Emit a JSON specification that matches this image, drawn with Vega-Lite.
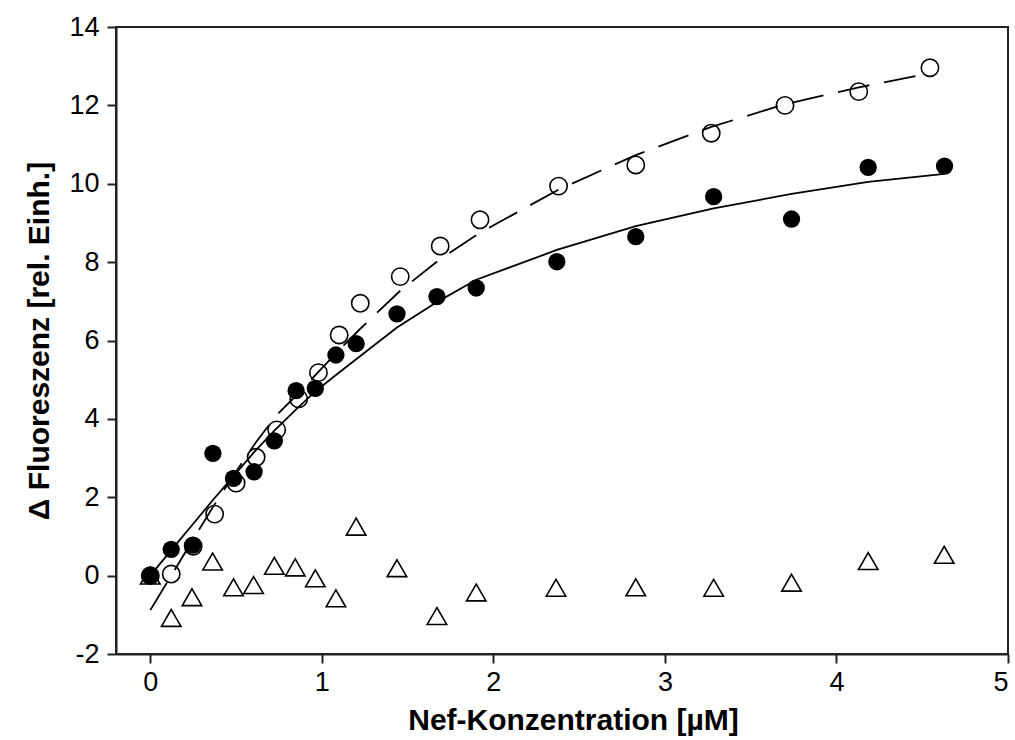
{
  "$schema": "https://vega.github.io/schema/vega-lite/v6.json",
  "width": 892,
  "height": 627,
  "autosize": {"type": "none"},
  "padding": {"left": 116, "top": 27, "right": 7, "bottom": 86},
  "background": "white",
  "config": {
    "view": {"stroke": "#222", "strokeWidth": 2},
    "font": "Liberation Sans",
    "axis": {
      "grid": false,
      "domainColor": "#222",
      "domainWidth": 2,
      "tickColor": "#222",
      "tickWidth": 2,
      "tickSize": 9,
      "labelColor": "black",
      "labelFont": "Liberation Sans",
      "labelFontSize": 27,
      "titleFont": "Liberation Sans",
      "titleFontSize": 30,
      "titleFontWeight": "bold",
      "titleColor": "black"
    }
  },
  "datasets": {
    "measured": [
      {"conc": 0, "signal": 0.0, "series": "triangle"},
      {"conc": 0.122, "signal": -1.08, "series": "triangle"},
      {"conc": 0.243, "signal": -0.55, "series": "triangle"},
      {"conc": 0.363, "signal": 0.36, "series": "triangle"},
      {"conc": 0.485, "signal": -0.3, "series": "triangle"},
      {"conc": 0.602, "signal": -0.24, "series": "triangle"},
      {"conc": 0.723, "signal": 0.25, "series": "triangle"},
      {"conc": 0.845, "signal": 0.21, "series": "triangle"},
      {"conc": 0.962, "signal": -0.07, "series": "triangle"},
      {"conc": 1.082, "signal": -0.58, "series": "triangle"},
      {"conc": 1.2, "signal": 1.25, "series": "triangle"},
      {"conc": 1.438, "signal": 0.19, "series": "triangle"},
      {"conc": 1.671, "signal": -1.03, "series": "triangle"},
      {"conc": 1.9, "signal": -0.43, "series": "triangle"},
      {"conc": 2.365, "signal": -0.31, "series": "triangle"},
      {"conc": 2.83, "signal": -0.3, "series": "triangle"},
      {"conc": 3.284, "signal": -0.31, "series": "triangle"},
      {"conc": 3.738, "signal": -0.18, "series": "triangle"},
      {"conc": 4.185, "signal": 0.37, "series": "triangle"},
      {"conc": 4.628, "signal": 0.53, "series": "triangle"},

      {"conc": 0, "signal": 0.0, "series": "open"},
      {"conc": 0.122, "signal": 0.04, "series": "open"},
      {"conc": 0.25, "signal": 0.75, "series": "open"},
      {"conc": 0.375, "signal": 1.57, "series": "open"},
      {"conc": 0.5, "signal": 2.36, "series": "open"},
      {"conc": 0.617, "signal": 3.02, "series": "open"},
      {"conc": 0.737, "signal": 3.72, "series": "open"},
      {"conc": 0.865, "signal": 4.51, "series": "open"},
      {"conc": 0.98, "signal": 5.18, "series": "open"},
      {"conc": 1.101, "signal": 6.14, "series": "open"},
      {"conc": 1.224, "signal": 6.95, "series": "open"},
      {"conc": 1.457, "signal": 7.63, "series": "open"},
      {"conc": 1.69, "signal": 8.41, "series": "open"},
      {"conc": 1.922, "signal": 9.08, "series": "open"},
      {"conc": 2.38, "signal": 9.94, "series": "open"},
      {"conc": 2.83, "signal": 10.48, "series": "open"},
      {"conc": 3.27, "signal": 11.29, "series": "open"},
      {"conc": 3.7, "signal": 12.0, "series": "open"},
      {"conc": 4.13, "signal": 12.35, "series": "open"},
      {"conc": 4.545, "signal": 12.96, "series": "open"},

      {"conc": 0, "signal": 0.0, "series": "filled"},
      {"conc": 0.122, "signal": 0.67, "series": "filled"},
      {"conc": 0.248, "signal": 0.78, "series": "filled"},
      {"conc": 0.365, "signal": 3.12, "series": "filled"},
      {"conc": 0.485, "signal": 2.48, "series": "filled"},
      {"conc": 0.605, "signal": 2.65, "series": "filled"},
      {"conc": 0.723, "signal": 3.44, "series": "filled"},
      {"conc": 0.85, "signal": 4.72, "series": "filled"},
      {"conc": 0.962, "signal": 4.78, "series": "filled"},
      {"conc": 1.082, "signal": 5.63, "series": "filled"},
      {"conc": 1.2, "signal": 5.92, "series": "filled"},
      {"conc": 1.438, "signal": 6.68, "series": "filled"},
      {"conc": 1.671, "signal": 7.12, "series": "filled"},
      {"conc": 1.9, "signal": 7.34, "series": "filled"},
      {"conc": 2.37, "signal": 8.01, "series": "filled"},
      {"conc": 2.83, "signal": 8.65, "series": "filled"},
      {"conc": 3.284, "signal": 9.67, "series": "filled"},
      {"conc": 3.738, "signal": 9.1, "series": "filled"},
      {"conc": 4.185, "signal": 10.42, "series": "filled"},
      {"conc": 4.63, "signal": 10.45, "series": "filled"}
    ],
    "fits": [
      {"conc": 0, "fit": 0.0, "curve": "solid"},
      {"conc": 0.122, "fit": 0.65, "curve": "solid"},
      {"conc": 0.248, "fit": 1.31, "curve": "solid"},
      {"conc": 0.365, "fit": 1.93, "curve": "solid"},
      {"conc": 0.485, "fit": 2.54, "curve": "solid"},
      {"conc": 0.605, "fit": 3.15, "curve": "solid"},
      {"conc": 0.723, "fit": 3.7, "curve": "solid"},
      {"conc": 0.85, "fit": 4.24, "curve": "solid"},
      {"conc": 0.962, "fit": 4.7, "curve": "solid"},
      {"conc": 1.082, "fit": 5.12, "curve": "solid"},
      {"conc": 1.2, "fit": 5.52, "curve": "solid"},
      {"conc": 1.438, "fit": 6.33, "curve": "solid"},
      {"conc": 1.671, "fit": 6.98, "curve": "solid"},
      {"conc": 1.9, "fit": 7.55, "curve": "solid"},
      {"conc": 2.37, "fit": 8.31, "curve": "solid"},
      {"conc": 2.83, "fit": 8.92, "curve": "solid"},
      {"conc": 3.284, "fit": 9.37, "curve": "solid"},
      {"conc": 3.738, "fit": 9.74, "curve": "solid"},
      {"conc": 4.185, "fit": 10.05, "curve": "solid"},
      {"conc": 4.63, "fit": 10.25, "curve": "solid"},

      {"conc": 0, "fit": -0.88, "curve": "dashed"},
      {"conc": 0.122, "fit": 0.0, "curve": "dashed"},
      {"conc": 0.25, "fit": 0.93, "curve": "dashed"},
      {"conc": 0.375, "fit": 1.82, "curve": "dashed"},
      {"conc": 0.5, "fit": 2.66, "curve": "dashed"},
      {"conc": 0.617, "fit": 3.41, "curve": "dashed"},
      {"conc": 0.737, "fit": 4.1, "curve": "dashed"},
      {"conc": 0.865, "fit": 4.66, "curve": "dashed"},
      {"conc": 0.98, "fit": 5.2, "curve": "dashed"},
      {"conc": 1.101, "fit": 5.76, "curve": "dashed"},
      {"conc": 1.224, "fit": 6.3, "curve": "dashed"},
      {"conc": 1.457, "fit": 7.27, "curve": "dashed"},
      {"conc": 1.69, "fit": 8.08, "curve": "dashed"},
      {"conc": 1.922, "fit": 8.75, "curve": "dashed"},
      {"conc": 2.38, "fit": 9.85, "curve": "dashed"},
      {"conc": 2.83, "fit": 10.73, "curve": "dashed"},
      {"conc": 3.27, "fit": 11.45, "curve": "dashed"},
      {"conc": 3.7, "fit": 12.03, "curve": "dashed"},
      {"conc": 4.13, "fit": 12.46, "curve": "dashed"},
      {"conc": 4.545, "fit": 12.82, "curve": "dashed"}
    ]
  },
  "encoding": {
    "x": {
      "field": "conc",
      "type": "quantitative",
      "scale": {"domain": [-0.2, 5], "nice": false, "zero": false},
      "axis": {
        "values": [0, 1, 2, 3, 4, 5],
        "title": "Nef-Konzentration [µM]",
        "labelPadding": 6,
        "titlePadding": 10,
        "titleX": 457
      }
    }
  },
  "layer": [
    {
      "data": {"name": "fits"},
      "transform": [{"filter": "datum.curve === 'solid'"}],
      "mark": {"type": "line", "color": "black", "strokeWidth": 1.8},
      "encoding": {
        "y": {
          "field": "fit",
          "type": "quantitative",
          "scale": {"domain": [-2, 14], "nice": false, "zero": false},
          "axis": {
            "values": [-2, 0, 2, 4, 6, 8, 10, 12, 14],
            "labelExpr": "datum.value < 0 ? '-' + abs(datum.value) : '' + datum.value",
            "title": "Δ Fluoreszenz [rel. Einh.]",
            "labelPadding": 8,
            "titlePadding": 14
          }
        }
      }
    },
    {
      "data": {"name": "fits"},
      "transform": [{"filter": "datum.curve === 'dashed'"}],
      "mark": {"type": "line", "color": "black", "strokeWidth": 1.8, "strokeDash": [32, 15]},
      "encoding": {"y": {"field": "fit", "type": "quantitative"}}
    },
    {
      "data": {"name": "measured"},
      "transform": [{"filter": "datum.series === 'triangle'"}],
      "mark": {"type": "point", "shape": "triangle-up", "filled": false, "color": "black", "strokeWidth": 1.6, "size": 380, "opacity": 1},
      "encoding": {"y": {"field": "signal", "type": "quantitative"}}
    },
    {
      "data": {"name": "measured"},
      "transform": [{"filter": "datum.series === 'open'"}],
      "mark": {"type": "point", "shape": "circle", "filled": false, "color": "black", "strokeWidth": 1.6, "size": 300, "opacity": 1},
      "encoding": {"y": {"field": "signal", "type": "quantitative"}}
    },
    {
      "data": {"name": "measured"},
      "transform": [{"filter": "datum.series === 'filled'"}],
      "mark": {"type": "point", "shape": "circle", "filled": true, "color": "black", "size": 300, "opacity": 1},
      "encoding": {"y": {"field": "signal", "type": "quantitative"}}
    }
  ]
}
